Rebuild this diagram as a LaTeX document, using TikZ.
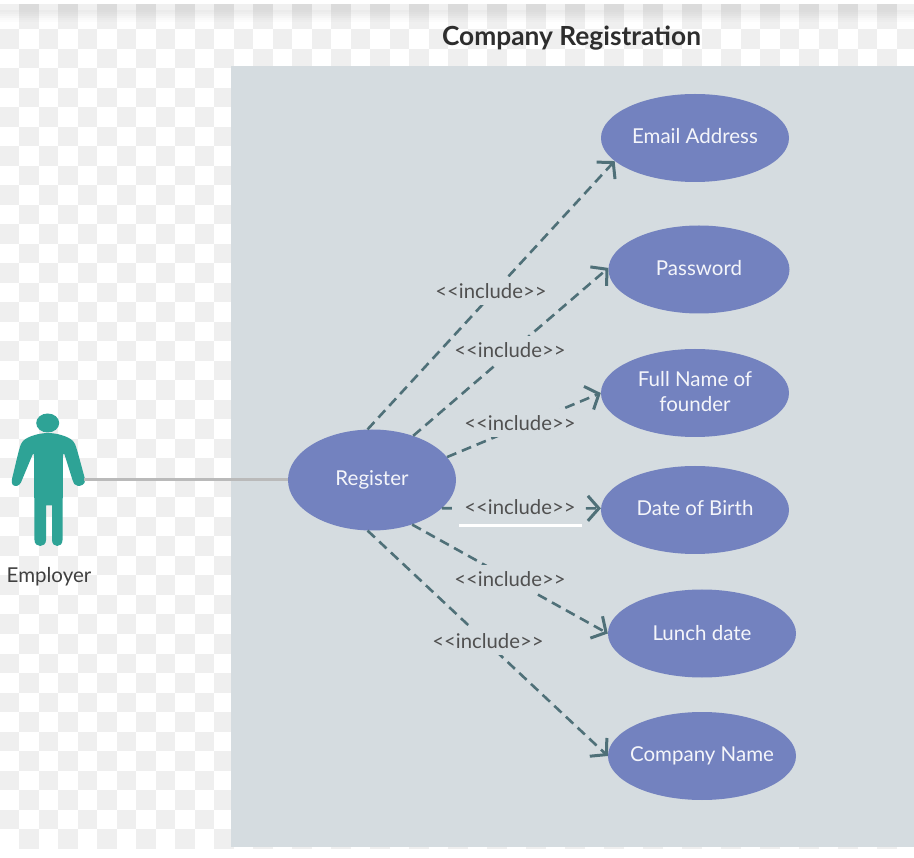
\documentclass[tikz,border=0pt]{standalone}
\usepackage{fontspec}
\setmainfont{Lato}
\usetikzlibrary{shapes.geometric,arrows.meta}
\definecolor{panelc}{HTML}{D5DCE0}
\definecolor{usec}{HTML}{7382BF}
\definecolor{linkc}{HTML}{4F7078}
\definecolor{actorc}{HTML}{2EA396}
\definecolor{checkc}{HTML}{EFEFEF}
\definecolor{labelc}{HTML}{505050}
\tikzset{
  usecase/.style={ellipse,fill=usec,text=white!92!usec,inner sep=0pt,minimum width=188pt,minimum height=88pt,align=center,font=\fontsize{20.5}{25}\selectfont},
  inclink/.style={draw=linkc,line width=2.6pt,dash pattern=on 10pt off 6pt,-{Straight Barb[length=11pt,width=25pt,line width=3pt]}},
  inclabel/.style={fill=panelc,text=labelc,inner xsep=2pt,inner ysep=6pt,font=\fontsize{20.3}{22}\selectfont},
  assoc/.style={draw=black!27,line width=3pt},
}
\begin{document}
\begin{tikzpicture}[x=1pt,y=-1pt]
\useasboundingbox (0,0) rectangle (914,858);
\fill[white] (0,0) rectangle (914,858);
% checkerboard
\foreach \r in {0,...,42}{
  \foreach \c in {0,...,46}{
    \pgfmathtruncatemacro{\odd}{mod(\r+\c,2)}
    \ifnum\odd=1
      \fill[checkc] ({\c*19.5-0.5},{10+\r*19.5}) rectangle ({(\c+1)*19.5-0.5},{10+(\r+1)*19.5});
    \fi
  }
}
% top band
\fill[black!6] (0,4) rectangle (914,10);
\foreach \c in {0,...,46}{
  \pgfmathtruncatemacro{\odd}{mod(\c,2)}
  \ifnum\odd=1 \fill[black!14] ({\c*19.5-0.5},4) rectangle ({(\c+1)*19.5-0.5},10); \fi
}
\foreach \i/\o in {0/.08,1/.065,2/.05,3/.035,4/.02,5/.01}{
  \fill[black,opacity=\o] (0,{10+2*\i}) rectangle (914,{12+2*\i});
}
% panel
\fill[panelc] (231,66) rectangle (914,846.5);
\node[font=\fontsize{26.3}{30}\selectfont\bfseries,text=black!82] (title) at (571.5,38) {Company Registration};
% actor
\fill[actorc] (48,433) .. controls (56,433) and (68,436) .. (73,441)
  .. controls (76,444) and (77,450) .. (85,479)
  .. controls (86,485) and (80,486) .. (78,486)
  .. controls (75,486) and (73,483) .. (72.5,480)
  -- (65,456) .. controls (64.5,453) and (63,453) .. (63,456)
  -- (62.5,540) .. controls (62.5,548) and (52,548) .. (52,540)
  -- (52,505.5) -- (46,505.5) -- (46,540)
  .. controls (46,548) and (34.5,548) .. (34.5,540)
  -- (34,456) .. controls (34,453) and (33,453) .. (32,456)
  -- (22,480) .. controls (21,484) and (18,486) .. (16,486)
  .. controls (13,486) and (11,484) .. (12,479)
  .. controls (19,450) and (20,444) .. (23,441)
  .. controls (28,436) and (40,433) .. (48,433) -- cycle;
\fill[actorc] (47.7,423) ellipse [x radius=11.5,y radius=9.5];
\node[font=\fontsize{20.5}{24}\selectfont,text=black!75] (employer) at (49,576.5) {Employer};
\coordinate (hand) at (84,480);
% use cases
\node[usecase] (reg) at (372,480) [minimum width=168pt,minimum height=101pt] {\raisebox{3.5pt}{Register}};
\node[usecase] (email) at (695,138) {\raisebox{3.5pt}{Email Address}};
\node[usecase,minimum width=181pt] (pass) at (699,269.5) {\raisebox{3.5pt}{Password}};
\node[usecase] (full) at (695,393) {\raisebox{4pt}{Full Name of}\\\raisebox{4pt}{founder}};
\node[usecase] (dob) at (695,510) {\raisebox{4pt}{Date of Birth}};
\node[usecase] (lunch) at (702,633.5) {Lunch date};
\node[usecase] (comp) at (702,756) {\makebox[0pt]{\raisebox{-1pt}{Company Name}}};
% connectors
\draw[assoc] (hand) -- (reg);
\draw[inclink] (reg.95) -- (email.196);
\draw[inclink] (reg.47) -- (pass.179);
\draw[inclink] (reg.17) -- (full.180);
\draw[inclink] (reg.-22.7) -- (dob.179);
\draw[inclink] (reg.-48) -- (lunch.180);
\draw[inclink] (reg.-95) -- (comp.180);
% labels
\node[inclabel] (l1) at (491,291) {<{}<include>{}>};
\node[inclabel] (l2) at (510,350) {<{}<include>{}>};
\node[inclabel] (l3) at (520,423) {<{}<include>{}>};
\node[inclabel,inner xsep=8pt] (l4) at (520,507) {<{}<include>{}>};
\node[inclabel] (l5) at (510,579) {<{}<include>{}>};
\node[inclabel] (l6) at (488,641) {<{}<include>{}>};
% white rule
\coordinate (ruleA) at (459,525.5);
\coordinate (ruleB) at (582,525.5);
\draw[white,line width=2.5pt] (ruleA) -- (ruleB);
\end{tikzpicture}
\end{document}
